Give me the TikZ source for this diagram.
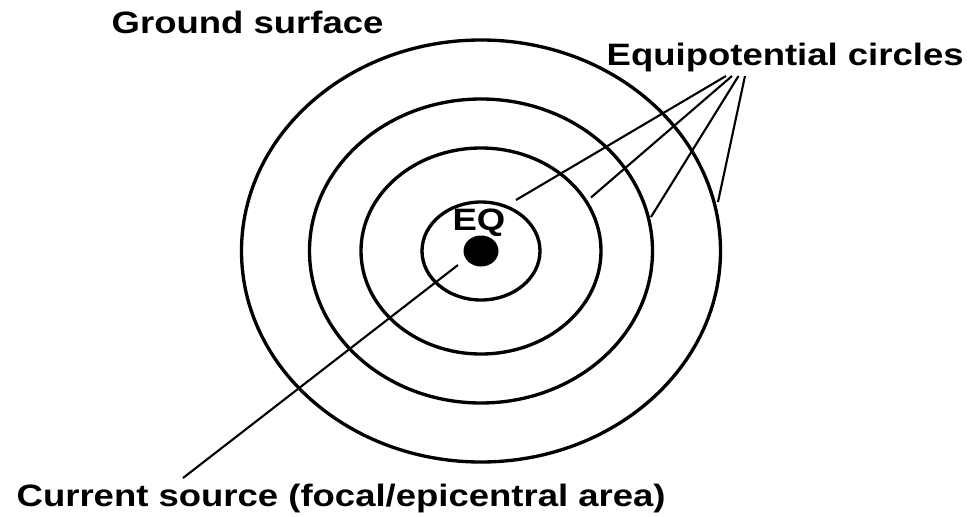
\documentclass[tikz,border=0pt]{standalone}
\usepackage{fontspec}
\setmainfont{Liberation Sans}
\usetikzlibrary{positioning}

\newcommand{\widetext}[1]{\scalebox{1.18}[1]{#1}}

\begin{document}
\begin{tikzpicture}[line width=0.95pt,
    lbl/.style={font=\fontsize{8.8}{10}\selectfont\bfseries, inner sep=0pt},
    leader/.style={line width=0.6pt}]
  \useasboundingbox (0,0) rectangle (9.69,5.16);
  \coordinate (C) at (4.81,2.65);
  % equipotential circles
  \draw (C) ellipse [x radius=0.59, y radius=0.49];
  \draw (C) ellipse [x radius=1.20, y radius=1.03];
  \draw (C) ellipse [x radius=1.715, y radius=1.52];
  \draw (C) ellipse [x radius=2.395, y radius=2.11];
  \fill (C) ellipse [x radius=0.175, y radius=0.155];

  \node[lbl, anchor=base] (eq) at (4.79,2.86) {\widetext{EQ}};
  \node[lbl, anchor=base west] (ground) at (1.10,4.83) {\widetext{Ground surface}};
  \node[lbl, anchor=base west] (equi) at (6.05,4.51) {\widetext{Equipotential circles}};
  \node[lbl, anchor=base west] (src) at (0.15,0.10) {\widetext{Current source (focal/epicentral area)}};

  % leader lines
  \coordinate (t1) at (7.26,4.40);
  \coordinate (t2) at (7.32,4.40);
  \coordinate (t3) at (7.385,4.40);
  \coordinate (t4) at (7.45,4.40);
  \coordinate (e1) at (5.16,3.16);
  \coordinate (e2) at (5.91,3.185);
  \coordinate (e3) at (6.51,2.99);
  \coordinate (e4) at (7.18,3.14);
  \draw[leader] (t1) -- (e1);
  \draw[leader] (t2) -- (e2);
  \draw[leader] (t3) -- (e3);
  \draw[leader] (t4) -- (e4);

  \coordinate (s0) at (4.58,2.51);
  \coordinate (s1) at (1.83,0.38);
  \draw[leader] (s0) -- (s1);
\end{tikzpicture}
\end{document}
